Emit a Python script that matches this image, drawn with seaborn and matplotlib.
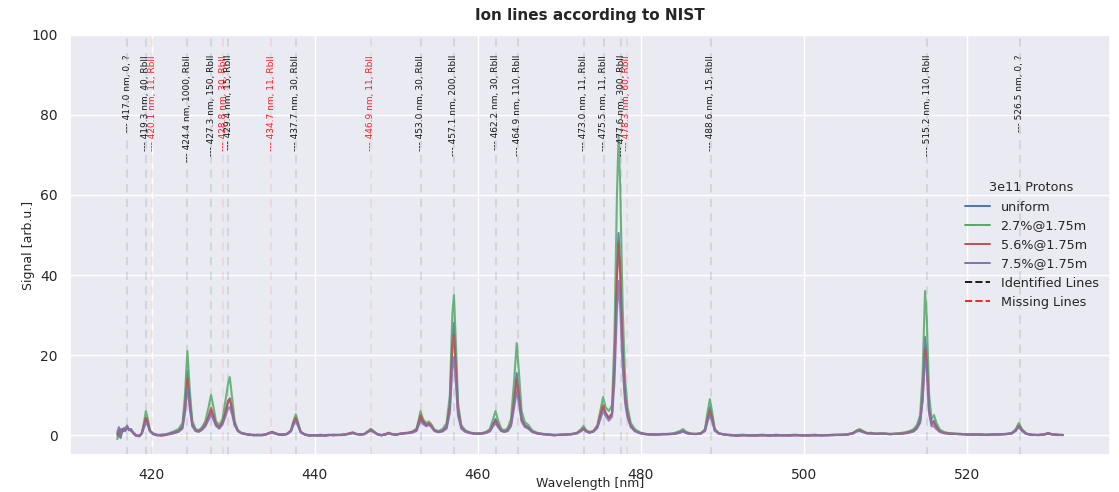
import numpy as np
import pandas as pd
import matplotlib
matplotlib.use("Agg")
import matplotlib.pyplot as plt
from matplotlib.lines import Line2D
import seaborn as sns

# Measured spectra (wavelength in nm, signal in arb. units)
wavelength = [
    415.8, 416.0, 416.2, 416.4, 416.6, 416.8, 417.0, 417.2, 417.5, 417.8, 418.1, 418.5, 418.8,
    419.1, 419.3, 419.5, 419.8, 420.2, 420.7, 421.2, 421.7, 422.2, 422.8, 423.3, 423.8, 424.1,
    424.4, 424.7, 425.0, 425.4, 425.8, 426.2, 426.6, 427.0, 427.3, 427.6, 427.9, 428.3, 428.7,
    429.1, 429.4, 429.6, 429.9, 430.2, 430.6, 431.0, 431.5, 432.0, 432.5, 433.0, 433.5, 434.0,
    434.5, 434.8, 435.2, 435.6, 436.1, 436.6, 437.1, 437.4, 437.7, 438.0, 438.3, 438.8, 439.3,
    439.8, 440.3, 440.8, 441.3, 441.8, 442.3, 442.8, 443.3, 443.8, 444.3, 444.7, 445.1, 445.6,
    446.1, 446.5, 446.9, 447.3, 447.7, 448.2, 448.7, 449.1, 449.5, 450.0, 450.5, 451.0, 451.5,
    452.0, 452.5, 452.8, 453.0, 453.3, 453.7, 454.0, 454.3, 454.7, 455.2, 455.7, 456.2, 456.6,
    456.9, 457.1, 457.3, 457.6, 458.0, 458.5, 459.0, 459.5, 460.0, 460.5, 461.0, 461.5, 461.9,
    462.2, 462.5, 462.9, 463.3, 463.7, 464.1, 464.5, 464.8, 465.1, 465.4, 465.8, 466.2, 466.7,
    467.3, 468.0, 468.7, 469.4, 470.1, 470.8, 471.5, 472.2, 472.7, 473.0, 473.3, 473.7, 474.2,
    474.7, 475.1, 475.4, 475.7, 476.1, 476.5, 476.8, 477.1, 477.3, 477.5, 477.8, 478.1, 478.4,
    478.8, 479.3, 479.9, 480.6, 481.3, 482.0, 482.7, 483.4, 484.1, 484.8, 485.2, 485.6, 486.2,
    486.8, 487.4, 487.9, 488.2, 488.5, 488.8, 489.1, 489.6, 490.3, 491.0, 491.8, 492.6, 493.4,
    494.2, 495.0, 495.8, 496.6, 497.4, 498.2, 499.0, 499.8, 500.6, 501.4, 502.2, 503.0, 503.8,
    504.6, 505.4, 506.1, 506.5, 506.9, 507.3, 507.8, 508.3, 508.8, 509.4, 510.0, 510.6, 511.2,
    511.8, 512.4, 513.0, 513.5, 513.9, 514.3, 514.6, 514.9, 515.1, 515.4, 515.7, 516.0, 516.3,
    516.7, 517.2, 517.8, 518.5, 519.2, 520.0, 520.8, 521.6, 522.4, 523.2, 524.0, 524.8, 525.5,
    526.0, 526.4, 526.8, 527.3, 528.0, 528.8, 529.5, 530.0, 530.5, 531.2, 531.8,
]

signal_uniform = [
    0.5, -0.5, 1.5, 0.8, 1.2, 1.8, 2.2, 1.2, 1.5, 0.3, -0.1, -0.2, 0.4,
    2.5, 4.2, 3.2, 1.0, 0.2, -0.1, 0.0, 0.1, 0.3, 0.7, 1.0, 2.2, 7.5,
    16.0, 8.5, 2.8, 1.2, 1.0, 1.5, 2.5, 4.5, 6.2, 4.5, 2.6, 1.8, 3.0,
    6.0, 8.5, 9.2, 6.0, 2.6, 1.0, 0.5, 0.3, 0.2, -0.1, 0.0, 0.1, 0.1,
    0.5, 0.7, 0.3, 0.1, 0.2, 0.2, 1.0, 2.8, 4.0, 2.4, 0.7, 0.1, 0.0,
    -0.1, 0.0, 0.1, -0.2, 0.0, 0.0, 0.1, 0.0, 0.1, 0.3, 0.5, 0.3, 0.2,
    0.3, 0.8, 1.2, 0.7, 0.2, -0.1, 0.2, 0.4, 0.2, 0.2, 0.3, 0.4, 0.5,
    0.7, 1.2, 3.0, 4.5, 3.2, 2.4, 2.8, 2.3, 1.1, 0.8, 1.1, 2.2, 8.0,
    24.0, 28.0, 20.0, 6.5, 2.0, 1.0, 0.6, 0.4, 0.4, 0.4, 0.6, 1.1, 2.8,
    4.0, 2.7, 1.2, 0.9, 1.3, 2.8, 9.5, 15.5, 10.0, 4.2, 2.5, 2.0, 0.9,
    0.5, 0.3, 0.2, 0.1, 0.0, 0.1, 0.2, 0.5, 1.1, 1.6, 1.0, 0.6, 0.9,
    2.0, 5.0, 7.0, 5.5, 4.2, 5.5, 18.0, 41.0, 50.5, 42.0, 22.0, 10.0, 5.2,
    2.3, 1.1, 0.5, 0.2, 0.1, 0.2, 0.2, 0.3, 0.3, 0.6, 1.0, 0.5, 0.3,
    0.3, 0.4, 1.2, 4.3, 7.0, 4.4, 1.3, 0.4, 0.2, -0.1, 0.0, 0.1, -0.1,
    0.0, 0.1, -0.1, 0.0, -0.1, 0.0, 0.1, -0.1, 0.0, 0.1, -0.1, 0.0, 0.0,
    0.1, 0.2, 0.5, 1.0, 1.2, 0.8, 0.4, 0.5, 0.3, 0.4, 0.3, 0.3, 0.3,
    0.4, 0.5, 0.8, 1.2, 2.0, 3.8, 10.5, 24.5, 20.5, 7.0, 3.0, 3.6, 2.2,
    1.0, 0.6, 0.4, 0.3, 0.3, 0.2, 0.2, 0.1, 0.1, 0.2, 0.1, 0.3, 0.4,
    1.1, 2.4, 1.2, 0.3, 0.0, 0.1, 0.1, 0.4, 0.2, 0.0, 0.1,
]

signal_27 = [
    -1.0, 1.5, -0.8, 1.0, 1.8, 1.2, 2.0, 1.5, 1.2, 0.4, -0.2, -0.3, 0.5,
    3.5, 6.0, 4.5, 1.2, 0.3, 0.0, 0.1, 0.2, 0.5, 1.0, 1.5, 3.0, 10.0,
    21.0, 11.0, 3.5, 1.5, 1.2, 2.0, 3.5, 7.0, 10.0, 7.0, 3.5, 2.5, 4.0,
    9.0, 13.0, 14.5, 9.0, 3.5, 1.2, 0.6, 0.3, 0.1, 0.0, 0.1, 0.0, 0.2,
    0.6, 0.8, 0.4, 0.2, 0.1, 0.3, 1.2, 3.5, 5.2, 3.0, 0.8, 0.2, -0.1,
    0.0, -0.2, 0.0, -0.1, 0.0, 0.1, 0.0, 0.1, 0.2, 0.4, 0.6, 0.3, 0.1,
    0.3, 0.9, 1.6, 0.9, 0.2, 0.0, 0.2, 0.5, 0.2, 0.1, 0.3, 0.5, 0.6,
    0.9, 1.6, 4.0, 6.0, 4.0, 3.0, 3.4, 2.8, 1.4, 1.0, 1.5, 3.0, 10.0,
    30.0, 35.0, 25.0, 8.0, 2.5, 1.2, 0.7, 0.5, 0.4, 0.5, 0.8, 1.5, 4.0,
    6.0, 3.8, 1.6, 1.2, 1.8, 4.0, 14.0, 23.0, 15.0, 6.0, 3.2, 2.6, 1.2,
    0.6, 0.3, 0.1, 0.0, 0.1, 0.2, 0.3, 0.6, 1.5, 2.3, 1.3, 0.8, 1.0,
    2.5, 6.5, 9.5, 7.0, 6.0, 7.5, 25.0, 60.0, 75.0, 62.0, 32.0, 14.0, 7.0,
    3.0, 1.5, 0.7, 0.3, 0.2, 0.2, 0.3, 0.3, 0.5, 1.0, 1.5, 0.8, 0.4,
    0.3, 0.5, 1.5, 5.5, 9.0, 5.5, 1.6, 0.5, 0.1, 0.0, -0.1, 0.0, -0.2,
    0.0, -0.1, 0.0, -0.2, 0.0, -0.1, 0.0, -0.1, 0.0, -0.1, 0.0, 0.0, 0.1,
    0.1, 0.2, 0.6, 1.2, 1.5, 1.0, 0.5, 0.6, 0.4, 0.5, 0.4, 0.3, 0.4,
    0.5, 0.7, 1.0, 1.5, 2.5, 5.0, 15.0, 36.0, 30.0, 10.0, 4.0, 5.0, 3.0,
    1.4, 0.8, 0.5, 0.4, 0.3, 0.2, 0.1, 0.2, 0.1, 0.2, 0.2, 0.3, 0.5,
    1.4, 3.0, 1.5, 0.4, 0.1, 0.0, 0.2, 0.5, 0.2, 0.1, 0.0,
]

signal_56 = [
    0.0, 1.0, 0.5, 1.5, 1.0, 1.4, 1.8, 1.6, 1.0, 0.6, 0.0, -0.3, 0.5,
    2.8, 4.3, 3.5, 1.1, 0.4, 0.1, -0.2, 0.0, 0.3, 0.6, 0.9, 2.0, 6.5,
    14.0, 7.5, 2.5, 1.1, 0.9, 1.6, 2.6, 4.8, 6.8, 4.8, 2.8, 1.9, 3.1,
    6.0, 8.6, 9.0, 6.2, 2.7, 1.1, 0.5, 0.2, 0.0, 0.1, -0.1, 0.0, 0.2,
    0.6, 0.8, 0.5, 0.2, 0.0, 0.3, 1.1, 3.0, 4.3, 2.6, 0.8, 0.2, -0.2,
    0.0, -0.1, -0.2, 0.0, 0.1, -0.1, 0.0, 0.1, 0.2, 0.5, 0.7, 0.3, 0.1,
    0.2, 0.8, 1.3, 0.8, 0.3, 0.0, 0.3, 0.6, 0.3, 0.1, 0.4, 0.5, 0.6,
    0.8, 1.3, 3.3, 5.0, 3.5, 2.6, 2.9, 2.4, 1.2, 0.8, 1.0, 2.0, 7.0,
    21.5, 25.0, 18.0, 6.0, 1.9, 0.9, 0.6, 0.4, 0.3, 0.4, 0.6, 1.0, 2.5,
    3.6, 2.4, 1.1, 0.8, 1.2, 2.6, 8.5, 14.0, 9.0, 3.8, 2.2, 1.8, 0.8,
    0.4, 0.2, 0.1, -0.1, 0.1, 0.1, 0.2, 0.5, 1.2, 1.7, 1.0, 0.7, 0.9,
    2.2, 5.3, 7.5, 5.6, 4.3, 5.4, 17.0, 39.0, 48.0, 40.0, 21.0, 9.5, 5.0,
    2.2, 1.0, 0.5, 0.3, 0.2, 0.1, 0.2, 0.2, 0.3, 0.7, 1.0, 0.6, 0.3,
    0.2, 0.4, 1.1, 3.8, 6.0, 3.9, 1.2, 0.4, 0.1, 0.1, -0.2, -0.1, 0.0,
    -0.2, 0.0, -0.2, 0.1, -0.1, 0.0, -0.1, 0.0, -0.2, 0.0, -0.1, 0.0, 0.1,
    0.0, 0.1, 0.5, 1.0, 1.2, 0.9, 0.5, 0.4, 0.3, 0.3, 0.4, 0.2, 0.3,
    0.3, 0.5, 0.7, 1.0, 1.8, 3.4, 9.0, 21.5, 18.0, 6.0, 2.6, 3.0, 1.9,
    0.9, 0.5, 0.4, 0.3, 0.2, 0.1, 0.1, 0.2, 0.0, 0.1, 0.2, 0.2, 0.4,
    1.1, 2.3, 1.2, 0.4, 0.1, 0.0, 0.2, 0.5, 0.2, 0.1, 0.0,
]

signal_75 = [
    0.8, 2.0, -0.5, 1.2, 1.6, 1.0, 2.4, 1.4, 1.3, 0.5, -0.2, -0.1, 0.3,
    2.0, 3.2, 2.6, 0.9, 0.3, 0.0, 0.1, 0.1, 0.2, 0.5, 0.8, 1.6, 5.5,
    12.0, 6.5, 2.2, 1.0, 0.8, 1.3, 2.2, 3.8, 5.2, 3.8, 2.3, 1.6, 2.6,
    4.8, 6.8, 7.0, 5.0, 2.4, 1.0, 0.5, 0.3, 0.2, 0.0, 0.1, -0.1, 0.1,
    0.5, 0.6, 0.4, 0.1, 0.1, 0.2, 0.9, 2.5, 3.6, 2.2, 0.7, 0.1, 0.0,
    -0.1, 0.0, 0.0, -0.1, 0.0, 0.1, 0.0, 0.0, 0.2, 0.3, 0.5, 0.2, 0.1,
    0.2, 0.7, 1.1, 0.7, 0.2, 0.0, 0.1, 0.4, 0.2, 0.0, 0.3, 0.4, 0.5,
    0.6, 1.0, 2.6, 3.6, 2.8, 2.2, 2.5, 2.1, 1.0, 0.7, 0.9, 1.6, 5.5,
    16.5, 19.5, 14.0, 4.8, 1.6, 0.8, 0.5, 0.4, 0.3, 0.3, 0.5, 0.9, 2.2,
    3.0, 2.0, 1.0, 0.8, 1.0, 2.2, 7.0, 11.0, 7.5, 3.4, 2.0, 1.6, 0.8,
    0.4, 0.2, 0.1, 0.0, 0.1, 0.2, 0.2, 0.4, 1.0, 1.4, 0.9, 0.6, 0.8,
    1.8, 4.2, 6.0, 4.8, 3.6, 4.6, 13.5, 31.0, 38.5, 32.0, 17.0, 8.0, 4.3,
    2.0, 1.0, 0.5, 0.2, 0.1, 0.1, 0.2, 0.2, 0.3, 0.6, 0.9, 0.5, 0.3,
    0.3, 0.4, 1.0, 3.2, 5.0, 3.3, 1.1, 0.4, 0.1, 0.0, -0.1, 0.0, -0.1,
    0.0, -0.1, 0.0, -0.1, 0.0, -0.2, 0.0, -0.1, 0.0, -0.1, 0.0, -0.1, 0.0,
    0.1, 0.1, 0.4, 0.9, 1.0, 0.7, 0.4, 0.4, 0.3, 0.3, 0.3, 0.2, 0.3,
    0.3, 0.4, 0.6, 0.9, 1.6, 3.0, 8.5, 19.5, 16.5, 5.5, 2.2, 2.2, 1.5,
    0.8, 0.5, 0.3, 0.3, 0.2, 0.2, 0.1, 0.1, 0.1, 0.1, 0.2, 0.2, 0.4,
    1.0, 2.0, 1.0, 0.3, 0.1, 0.0, 0.1, 0.4, 0.1, 0.1, 0.0,
]

series_names = ["uniform", "2.7%@1.75m", "5.6%@1.75m", "7.5%@1.75m"]
series_values = [signal_uniform, signal_27, signal_56, signal_75]

# NIST RbII reference lines: wavelength, relative intensity, ion, seen in data
line_wl = [417.0, 419.3, 420.1, 424.4, 427.3, 428.8, 429.4, 434.7, 437.7, 446.9, 453.0,
           457.1, 462.2, 464.9, 473.0, 475.5, 477.6, 478.3, 488.6, 515.2, 526.5]
line_int = [0, 40, 11, 1000, 150, 30, 15, 11, 30, 11, 30,
            200, 30, 110, 11, 11, 300, 60, 15, 110, 0]
line_ion = ["?", "RbII", "RbII", "RbII", "RbII", "RbII", "RbII", "RbII", "RbII", "RbII", "RbII",
            "RbII", "RbII", "RbII", "RbII", "RbII", "RbII", "RbII", "RbII", "RbII", "?"]
line_found = [True, True, False, True, True, False, True, False, True, False, True,
              True, True, True, True, True, True, False, True, True, True]

sns.set_theme(style="darkgrid")
palette = sns.color_palette("deep")
colors = {
    "uniform": palette[0],
    "2.7%@1.75m": palette[2],
    "5.6%@1.75m": palette[3],
    "7.5%@1.75m": palette[4],
}

df = pd.concat(
    [pd.DataFrame({"wavelength": wavelength, "signal": vals, "series": name})
     for name, vals in zip(series_names, series_values)],
    ignore_index=True,
)

fig = plt.figure(figsize=(11.19, 4.92), dpi=100)
ax = fig.add_axes([0.0626, 0.075, 0.9294, 0.854])

# reference lines and their labels
for found in (True, False):
    for wl, inten, ion, f in zip(line_wl, line_int, line_ion, line_found):
        if f != found:
            continue
        lc = "k" if found else "r"
        ax.axvline(wl, color=lc, linestyle=(0, (4, 3)), alpha=0.1, linewidth=1.5, zorder=1)
        ax.text(wl, 95, f"--- {wl:.1f} nm, {inten}, {ion}", rotation=90,
                ha="center", va="top", fontsize=6.5,
                color=lc if found else "#ff2020", zorder=5)

for name in ["uniform", "2.7%@1.75m", "5.6%@1.75m", "7.5%@1.75m"]:
    sns.lineplot(data=df[df["series"] == name], x="wavelength", y="signal",
                 color=colors[name], ax=ax, linewidth=1.5, alpha=0.85,
                 legend=False, zorder=3)

ax.set_ylim(-5, 100)
ax.set_xticks([420, 440, 460, 480, 500, 520])
ax.set_yticks([0, 20, 40, 60, 80, 100])
ax.tick_params(labelsize=10, pad=3)
ax.set_xlabel("Wavelength [nm]", fontsize=9)
ax.set_ylabel("Signal [arb.u.]", fontsize=9)
ax.xaxis.set_label_coords(0.5, -0.052)
ax.yaxis.set_label_coords(-0.034, 0.5)
ax.set_title("Ion lines according to NIST", fontsize=11, fontweight="bold", pad=11)

handles = [Line2D([], [], color=colors[n], linewidth=1.4) for n in series_names]
handles += [Line2D([], [], color="k", linestyle="--", linewidth=1.4),
            Line2D([], [], color="#ff2020", linestyle="--", linewidth=1.4)]
labels = series_names + ["Identified Lines", "Missing Lines"]
ax.legend(handles, labels, title="3e11 Protons", loc="center right",
          frameon=False, fontsize=9.2, title_fontsize=9.2,
          bbox_to_anchor=(1.0, 0.5), labelspacing=0.47, handlelength=2.0)

fig.savefig("out.png", dpi=100)
